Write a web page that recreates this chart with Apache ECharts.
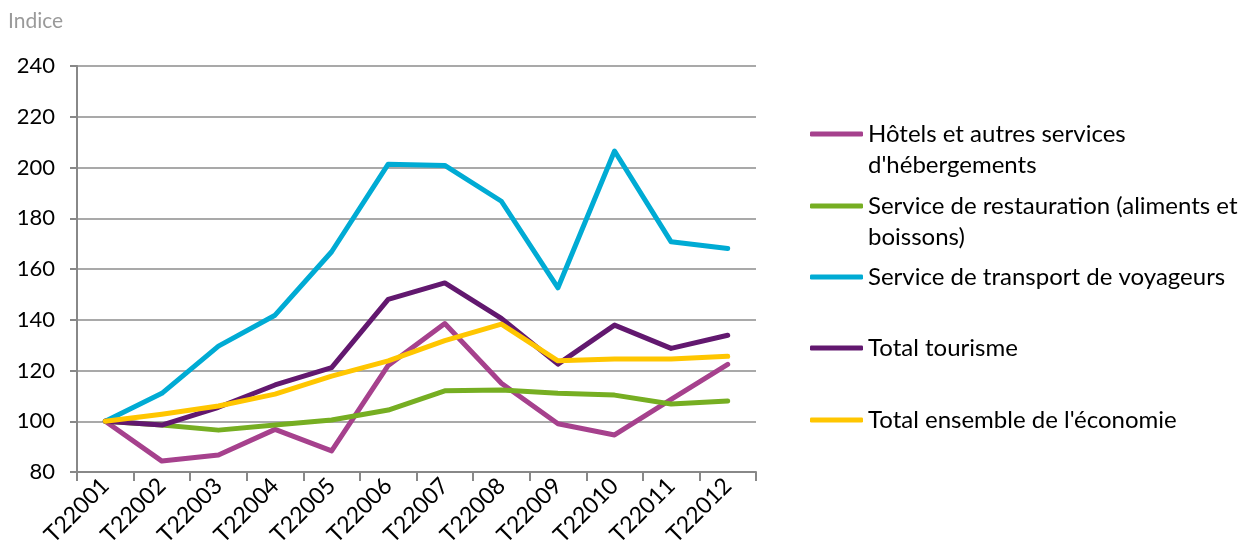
<!DOCTYPE html>
<html>
<head>
<meta charset="utf-8">
<script src="https://cdn.jsdelivr.net/npm/echarts@6/dist/echarts.min.js"></script>
<style>html,body{margin:0;padding:0;background:#fff}#c{width:1240px;height:551px}</style>
</head>
<body>
<div id="c"></div>
<script>
const categories = ['T22001','T22002','T22003','T22004','T22005','T22006','T22007','T22008','T22009','T22010','T22011','T22012'];
const hotels = [100, 84.3, 86.7, 96.8, 88.3, 122, 138.5, 115, 99, 94.6, 108.6, 122.4];
const restauration = [100, 98.5, 96.5, 98.5, 100.5, 104.4, 112, 112.3, 111, 110.3, 106.8, 108];
const transport = [100, 111, 129.6, 141.8, 166.8, 201.3, 200.8, 186.7, 152.6, 206.5, 170.7, 168.1];
const tourisme = [100, 98.5, 105.5, 114.3, 121.1, 148, 154.5, 140.5, 122.5, 137.9, 128.7, 133.9];
const economie = [100, 102.8, 106, 110.7, 117.8, 123.8, 131.8, 138.3, 123.8, 124.5, 124.5, 125.6];
const seriesNames = ["Hôtels et autres services\nd'hébergements", "Service de restauration (aliments et\nboissons)", "Service de transport de voyageurs", "Total tourisme", "Total ensemble de l'économie"];
const seriesData = [hotels, restauration, transport, tourisme, economie];
const colors = ['#A6418D', '#76AE22', '#00ABD4', '#62186F', '#FFC600'];
const yTicks = [80, 100, 120, 140, 160, 180, 200, 220, 240];

const FONT = 'Lato';
const legendCenters = [134, 206, 277, 348, 420];
const LH = 31;

const chart = echarts.init(document.getElementById('c'));
const legends = seriesNames.map((n, i) => ({
  data: [n],
  left: 810,
  top: legendCenters[i] - LH / 2,
  icon: 'roundRect',
  itemWidth: 53,
  itemHeight: 5,
  itemGap: 0,
  padding: 0,
  selectedMode: false,
  formatter: name => name.split('\n')[0],
  textStyle: { fontFamily: FONT, fontSize: 24, color: '#000', lineHeight: LH }
}));
const graphics = [];
seriesNames.forEach((n, i) => {
  const parts = n.split('\n');
  if (parts.length > 1) {
    graphics.push({ type: 'text', left: 868, top: legendCenters[i] + LH - LH / 2,
      style: { text: parts[1], font: '24px ' + FONT, fill: '#000', lineHeight: LH } });
  }
});

chart.setOption({
  animation: false,
  title: { text: 'Indice', left: 8, top: 11, padding: 0,
    textStyle: { fontFamily: FONT, fontSize: 21, fontWeight: 'normal', color: '#9a9a9a' } },
  legend: legends,
  graphic: graphics,
  grid: { left: 77, right: 484, top: 66, bottom: 79, containLabel: false },
  xAxis: {
    type: 'category', data: categories, boundaryGap: true,
    axisLine: { lineStyle: { color: '#888', width: 2 } },
    axisTick: { show: true, length: 9, lineStyle: { color: '#888', width: 2 } },
    axisLabel: { rotate: 45, fontFamily: FONT, fontSize: 23, color: '#000', margin: 10, interval: 0 }
  },
  yAxis: {
    type: 'value', min: yTicks[0], max: yTicks[yTicks.length - 1], interval: 20,
    axisLine: { show: true, lineStyle: { color: '#888', width: 2 } },
    axisTick: { show: true, length: 7, lineStyle: { color: '#888', width: 2 } },
    axisLabel: { fontFamily: FONT, fontSize: 22, color: '#000', margin: 22 },
    splitLine: { lineStyle: { color: '#8c8c8c', width: 1.5 } }
  },
  series: seriesNames.map((n, i) => ({
    name: n, type: 'line', data: seriesData[i], symbol: 'none', smooth: false,
    lineStyle: { color: colors[i], width: 5, cap: 'round', join: 'round' },
    itemStyle: { color: colors[i] }
  }))
});
</script>
</body>
</html>
